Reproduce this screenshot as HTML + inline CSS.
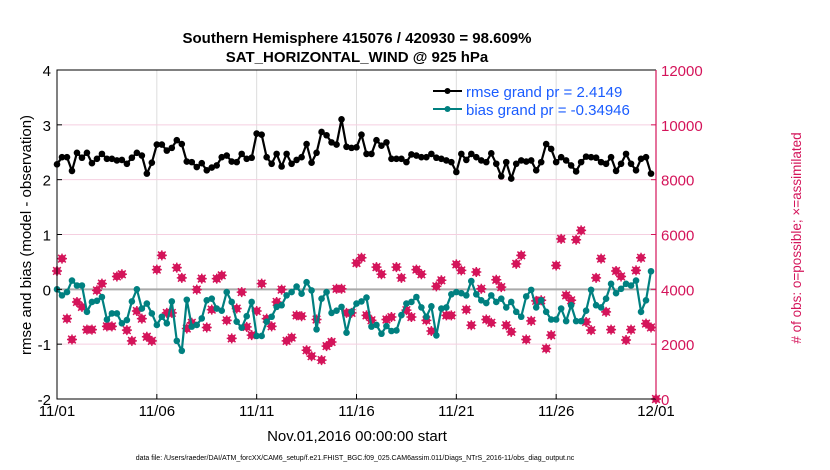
<!DOCTYPE html>
<html><head><meta charset="utf-8"><style>
body{margin:0;background:#fff;}
svg{display:block;font-family:"Liberation Sans",Arial,sans-serif;}
</style></head><body>
<svg id="chart" width="830" height="470" viewBox="0 0 830 470">
<g id="grid"></g>
<g id="marks"></g>
<g id="axes"></g>
<text x="357" y="43" text-anchor="middle" font-size="15" font-weight="bold">Southern Hemisphere 415076 / 420930 = 98.609%</text>
<text x="357" y="62" text-anchor="middle" font-size="15" font-weight="bold">SAT_HORIZONTAL_WIND @ 925 hPa</text>
<text x="357" y="441" text-anchor="middle" font-size="15">Nov.01,2016 00:00:00 start</text>
<text x="355" y="460" text-anchor="middle" font-size="7">data file: /Users/raeder/DAI/ATM_forcXX/CAM6_setup/f.e21.FHIST_BGC.f09_025.CAM6assim.011/Diags_NTrS_2016-11/obs_diag_output.nc</text>
<text transform="translate(31,235) rotate(-90)" text-anchor="middle" font-size="15">rmse and bias (model - observation)</text>
<text transform="translate(801,238) rotate(-90)" text-anchor="middle" font-size="13.5" fill="#d4145a"># of obs: o=possible; ×=assimilated</text>
<g>
<line x1="433" y1="91" x2="462" y2="91" stroke="#000" stroke-width="2"/>
<circle cx="447.5" cy="91" r="3" fill="#000"/>
<text x="466" y="97" font-size="15" fill="#1a5cff">rmse grand pr = 2.4149</text>
<line x1="433" y1="109" x2="462" y2="109" stroke="#008080" stroke-width="2"/>
<circle cx="447.5" cy="109" r="3" fill="#008080"/>
<text x="466" y="115" font-size="15" fill="#1a5cff">bias grand pr = -0.34946</text>
</g>
</svg>
<script>
const xTickLabels = ["11/01","11/06","11/11","11/16","11/21","11/26","12/01"];
const yLeftTicks = [-2,-1,0,1,2,3,4];
const yRightTicks = [0,2000,4000,6000,8000,10000,12000];
const rmse = [2.28,2.41,2.41,2.16,2.49,2.40,2.49,2.30,2.38,2.47,2.38,2.38,2.35,2.36,2.29,2.40,2.49,2.44,2.11,2.31,2.64,2.64,2.53,2.58,2.72,2.65,2.33,2.32,2.23,2.30,2.17,2.22,2.26,2.41,2.44,2.33,2.32,2.47,2.38,2.40,2.84,2.82,2.41,2.29,2.47,2.24,2.47,2.29,2.36,2.41,2.65,2.31,2.49,2.87,2.81,2.68,2.64,3.10,2.60,2.58,2.59,
2.82,2.47,2.47,2.72,2.62,2.68,2.38,2.38,2.38,2.32,2.46,2.44,2.41,2.41,2.47,2.40,2.38,2.35,2.32,2.14,2.47,2.36,2.47,2.41,2.35,2.32,2.48,2.29,2.06,2.32,2.02,2.29,2.35,2.33,2.35,2.17,2.32,2.65,2.56,2.32,2.41,2.35,2.26,2.15,2.32,2.42,2.41,2.40,2.32,2.29,2.41,2.16,2.29,2.47,2.29,2.17,2.38,2.41,2.11];
const bias = [0,-0.11,-0.05,0.16,0.07,0.07,-0.41,-0.23,-0.21,-0.14,-0.55,-0.44,-0.44,-0.62,-0.56,-0.22,0,-0.35,-0.26,-0.44,-0.65,-0.50,-0.62,-0.22,-0.94,-1.12,-0.19,-0.68,-0.65,-0.53,-0.20,-0.17,-0.35,-0.39,-0.05,-0.23,-0.59,-0.70,-0.49,-0.23,-0.85,-0.85,-0.59,-0.50,-0.32,-0.29,-0.11,-0.05,0.05,-0.08,0.13,-0.02,-0.73,-0.17,-0.05,-0.43,-0.39,-0.32,-0.79,-0.41,-0.26,
-0.22,-0.15,-0.68,-0.65,-0.81,-0.67,-0.76,-0.75,-0.47,-0.26,-0.23,-0.14,-0.33,-0.50,-0.31,-0.84,-0.35,-0.33,-0.09,-0.05,-0.07,-0.11,0.15,-0.09,-0.20,-0.25,-0.11,-0.23,-0.17,-0.33,-0.23,-0.41,-0.50,-0.13,-0.01,-0.33,-0.20,-0.41,-0.55,-0.55,-0.35,-0.58,-0.29,-0.58,-0.58,-0.39,-0.01,-0.29,-0.33,-0.17,0.10,-0.07,0.01,0.10,0.07,0.16,-0.41,-0.20,0.33];
const nobs = [4670,5120,2930,2170,3540,3360,2530,2530,3960,4210,2650,2650,4470,4550,2510,2120,3210,2930,2270,2120,4720,5240,3140,3140,4790,4420,2570,2780,3990,4390,2610,3260,4390,4510,2870,2210,3300,3900,2630,2330,3210,4210,2930,2650,3540,3990,2120,2240,3050,3020,1780,1560,2900,1420,1930,2080,4020,4020,3140,3140,4960,
5150,3050,2870,4810,4550,2900,2990,4810,4420,3240,2990,4720,4550,2870,2480,4110,4330,3050,3050,4910,4690,3260,2690,4630,4020,2900,2780,4350,4080,2690,2450,4930,5240,2170,2850,3580,3600,1840,2330,4870,5840,3780,3600,5810,6150,2810,2510,4420,5120,3180,2530,4670,4470,2150,2530,4690,5150,2750,2610,0];

const NS='http://www.w3.org/2000/svg';
const X0=57,X1=656,Y0=399,Y1=70;
const xs=i=>X0+(X1-X0)*(i/4)/30;
const yl=v=>Y0-(v+2)/6*(Y0-Y1);
const yr=v=>Y0-v/12000*(Y0-Y1);
function mk(tag,attrs,parent){const e=document.createElementNS(NS,tag);for(const k in attrs)e.setAttribute(k,attrs[k]);parent.appendChild(e);return e;}
const grid=document.getElementById('grid'),marks=document.getElementById('marks'),axes=document.getElementById('axes');
xTickLabels.forEach((t,i)=>{const x=X0+(X1-X0)*i/6;
 const g=mk('line',{x1:x,x2:x,y1:Y1,y2:Y0,stroke:'#dcdcdc','stroke-width':1},grid);
 
 
 const tk=mk('line',{x1:x,x2:x,y1:Y0,y2:Y0-5,stroke:'#000'},axes);
 
 
 const tx=mk('text',{x:x,y:Y0+17,'text-anchor':'middle','font-size':15},axes);tx.textContent=t;
 
 
});
yLeftTicks.forEach(v=>{const y=yl(v);
 if(v>-2&&v<4){const g=mk('line',{x1:X0,x2:X1,y1:y,y2:y,stroke:'#f5cfe0','stroke-width':1},grid);
 
 }
 const tk=mk('line',{x1:X0,x2:X0+5,y1:y,y2:y,stroke:'#000'},axes);
 
 
 const tx=mk('text',{x:X0-6,y:y+6,'text-anchor':'end','font-size':15},axes);tx.textContent=v;
 
 
});
yRightTicks.forEach(v=>{const y=yr(v);
 const tk=mk('line',{x1:X1,x2:X1-5,y1:y,y2:y,stroke:'#d4145a'},axes);
 
 
 const tx=mk('text',{x:X1+5,y:y+6,'font-size':15,fill:'#d4145a'},axes);tx.textContent=v;
 
 
});
const zl=mk('line',{x1:X0,x2:X1,y1:yl(0),y2:yl(0),stroke:'#aaa','stroke-width':2},grid);


const ax=mk('path',{d:`M${X1},${Y1}H${X0}V${Y0}H${X1}`,fill:'none',stroke:'#000','stroke-width':1},axes);


const ar=mk('line',{x1:X1,x2:X1,y1:Y1,y2:Y0,stroke:'#d4145a','stroke-width':1.2},axes);


nobs.forEach((v,i)=>{const x=xs(i),y=yr(v);
 const g=mk('g',{},marks);
 
 
 mk('circle',{cx:x,cy:y,r:3.8,fill:'#d4145a'},g);
 mk('path',{d:`M${x-5},${y}H${x+5}M${x},${y-5}V${y+5}M${x-3.8},${y-3.8}L${x+3.8},${y+3.8}M${x-3.8},${y+3.8}L${x+3.8},${y-3.8}`,stroke:'#d4145a','stroke-width':1.5},g);
});
function series(arr,color,name){
 const p=mk('polyline',{points:arr.map((v,i)=>xs(i)+','+yl(v)).join(' '),fill:'none',stroke:color,'stroke-width':2.2},marks);
 
 
 arr.forEach((v,i)=>{const c=mk('circle',{cx:xs(i),cy:yl(v),r:3.3,fill:color},marks);
  
  });
}
series(bias,'#008080','bias');
series(rmse,'#000000','rmse');
</script>
</body></html>
